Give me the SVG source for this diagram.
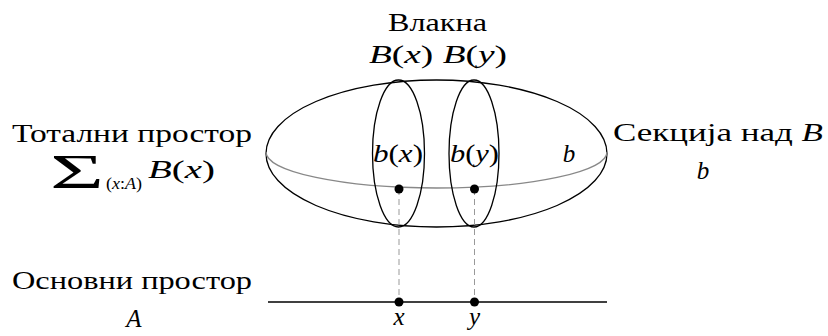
<svg xmlns="http://www.w3.org/2000/svg" width="828" height="336" viewBox="0 0 828 336">
<rect width="828" height="336" fill="#fff"/>
<g id="total">
<ellipse cx="436.5" cy="153.5" rx="170.5" ry="73.5" fill="none" stroke="#000" stroke-width="1.3"/>
<path d="M266,152 A170.5,36 0 0 0 607,152" fill="none" stroke="#888" stroke-width="1.3"/>
<text x="569" y="162" font-family="Times New Roman" font-size="25" font-style="italic" text-anchor="middle">b</text>
</g>
<g id="connectors" stroke="#999" stroke-width="1" stroke-dasharray="6,4">
<line x1="399" y1="189" x2="399" y2="302"/>
<line x1="474.5" y1="189" x2="474.5" y2="302"/>
</g>
<g id="fiberX">
<ellipse cx="398.5" cy="153.5" rx="26" ry="73.5" fill="none" stroke="#000" stroke-width="1.3"/>
<text x="373" y="162" font-family="Times New Roman" font-size="25" textLength="50" lengthAdjust="spacingAndGlyphs"><tspan font-style="italic">b</tspan>(<tspan font-style="italic">x</tspan>)</text>
<circle cx="399" cy="189" r="4.5"/>
</g>
<g id="fiberY">
<ellipse cx="474" cy="153.5" rx="25" ry="73.5" fill="none" stroke="#000" stroke-width="1.3"/>
<text x="450" y="162" font-family="Times New Roman" font-size="25" textLength="49" lengthAdjust="spacingAndGlyphs"><tspan font-style="italic">b</tspan>(<tspan font-style="italic">y</tspan>)</text>
<circle cx="474.5" cy="189" r="4.5"/>
</g>
<g id="base">
<line x1="268" y1="302" x2="607" y2="302" stroke="#000" stroke-width="1.3"/>
<circle cx="399" cy="302" r="4.5"/>
<circle cx="474.5" cy="302" r="4.5"/>
<text x="399" y="325" font-family="Times New Roman" font-size="25" font-style="italic" text-anchor="middle">x</text>
<text x="474.5" y="325" font-family="Times New Roman" font-size="25" font-style="italic" text-anchor="middle">y</text>
</g>
<g id="fibersLabel">
<text x="388" y="31" font-family="Times New Roman" font-size="25" textLength="99" lengthAdjust="spacingAndGlyphs">Влакна</text>
<text x="369" y="63" font-family="Times New Roman" font-size="25" textLength="138" lengthAdjust="spacingAndGlyphs"><tspan font-style="italic">B</tspan>(<tspan font-style="italic">x</tspan>) <tspan font-style="italic">B</tspan>(<tspan font-style="italic">y</tspan>)</text>
</g>
<g id="totalLabel">
<text x="12" y="142" font-family="Times New Roman" font-size="25" textLength="240" lengthAdjust="spacingAndGlyphs">Тотални простор</text>
<text x="50" y="188" font-family="Times New Roman" font-size="48" textLength="54" lengthAdjust="spacingAndGlyphs">Σ</text>
<text x="106" y="189" font-family="Times New Roman" font-size="17" textLength="36" lengthAdjust="spacingAndGlyphs">(<tspan font-style="italic">x</tspan>:<tspan font-style="italic">A</tspan>)</text>
<text x="148" y="178" font-family="Times New Roman" font-size="25" textLength="67" lengthAdjust="spacingAndGlyphs"><tspan font-style="italic">B</tspan>(<tspan font-style="italic">x</tspan>)</text>
</g>
<g id="sectionLabel">
<text x="613" y="141" font-family="Times New Roman" font-size="25" textLength="210" lengthAdjust="spacingAndGlyphs">Секција над <tspan font-style="italic">B</tspan></text>
<text x="703" y="179" font-family="Times New Roman" font-size="25" font-style="italic" text-anchor="middle">b</text>
</g>
<g id="baseLabel">
<text x="12" y="289" font-family="Times New Roman" font-size="25" textLength="240" lengthAdjust="spacingAndGlyphs">Основни простор</text>
<text x="134" y="327" font-family="Times New Roman" font-size="25" font-style="italic" text-anchor="middle">A</text>
</g>
</svg>
